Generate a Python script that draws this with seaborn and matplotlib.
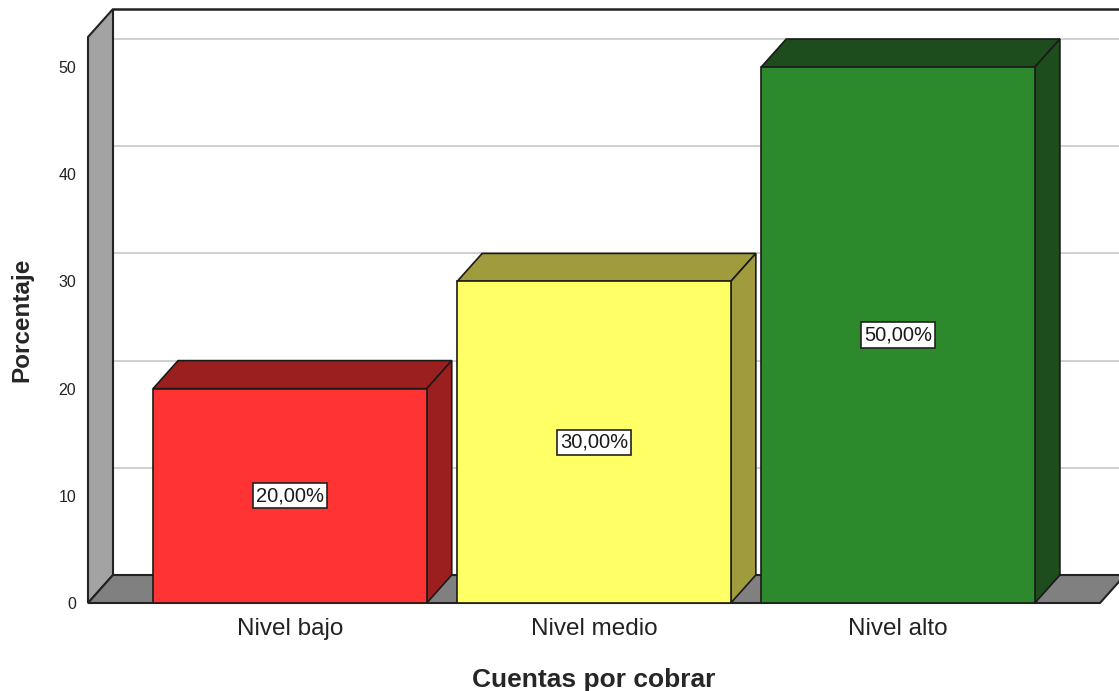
import matplotlib
matplotlib.use("Agg")
import matplotlib.pyplot as plt
import seaborn as sns
import pandas as pd
from matplotlib.patches import Polygon

# --- DATA ---
categorias = ["Nivel bajo", "Nivel medio", "Nivel alto"]
porcentajes = [20.0, 30.0, 50.0]
etiquetas = ["20,00%", "30,00%", "50,00%"]
yticks = [0, 10, 20, 30, 40, 50]

color_frente = ["#ff3333", "#ffff66", "#2c8a2c"]
color_lado = ["#9c1f1f", "#a09b3c", "#1d4d1d"]

df = pd.DataFrame({"categoria": categorias, "porcentaje": porcentajes})

sns.set_style("white")
plt.rcParams["font.family"] = ["Liberation Sans", "DejaVu Sans"]

fig = plt.figure(figsize=(11.19, 6.91), dpi=100)
ax = fig.add_axes([88 / 1119, 88 / 691, (1100 - 88) / 1119, (603 - 37) / 691])

sns.barplot(data=df, x="categoria", y="porcentaje", hue="categoria",
            palette=color_frente, width=0.9, saturation=1, legend=False,
            edgecolor="#1a1a1a", linewidth=1.2, zorder=5, ax=ax)

# barras dibujadas por seaborn
barras = sorted([p for p in ax.patches if p.get_height() > 0], key=lambda p: p.get_x())

xmin, xmax = -0.664, 2.664
ymin, ymax = 0, 52.8
ax.set_xlim(xmin, xmax)
ax.set_ylim(ymin, ymax)
for s in ax.spines.values():
    s.set_visible(False)

# profundidad 3D (en pixeles -> unidades de datos)
p0 = ax.transData.transform((0, 0))
p1 = ax.transData.transform((1, 1))
dx = 25 / (p1[0] - p0[0])
dy = 28 / (p1[1] - p0[1])

# --- PARED DE FONDO ---
for t in yticks[1:]:
    ax.plot([xmin + dx, xmax + dx], [t + dy, t + dy], color="#c8c8c8",
            lw=1.2, clip_on=False, zorder=1)
ax.plot([xmin + dx, xmax + dx + 1], [ymax + dy, ymax + dy], color="#222222",
        lw=1.8, clip_on=False, zorder=2)

# pared lateral
lado = Polygon([(xmin, 0), (xmin, ymax), (xmin + dx, ymax + dy), (xmin + dx, dy)],
               closed=True, facecolor="#a3a3a3", edgecolor="#222222", lw=1.5,
               clip_on=False, zorder=3)
ax.add_patch(lado)

# suelo
suelo = Polygon([(xmin, 0), (xmax, 0), (xmax + dx, dy), (xmin + dx, dy)],
                closed=True, facecolor="#808080", edgecolor="#222222", lw=1.5,
                clip_on=False, zorder=3)
ax.add_patch(suelo)

# --- CARAS SUPERIOR Y LATERAL DE LAS BARRAS ---
for i, b in enumerate(barras):
    x0, w, h = b.get_x(), b.get_width(), b.get_height()
    top = Polygon([(x0, h), (x0 + w, h), (x0 + w + dx, h + dy), (x0 + dx, h + dy)],
                  closed=True, facecolor=color_lado[i], edgecolor="#1a1a1a",
                  lw=1.2, clip_on=False, zorder=4)
    side = Polygon([(x0 + w, 0), (x0 + w, h), (x0 + w + dx, h + dy), (x0 + w + dx, dy)],
                   closed=True, facecolor=color_lado[i], edgecolor="#1a1a1a",
                   lw=1.2, clip_on=False, zorder=4)
    ax.add_patch(top)
    ax.add_patch(side)
    ax.text(x0 + w / 2, h / 2, etiquetas[i], ha="center", va="center",
            fontsize=14.5, color="#1a1a1a", zorder=7,
            bbox=dict(boxstyle="square,pad=0.15", facecolor="white",
                      edgecolor="#222222", lw=1.2))

ax.set_yticks(yticks)
ax.set_yticklabels([str(t) for t in yticks], fontsize=11.5, color="#222222")
ax.tick_params(axis="y", length=0, pad=8.5)
ax.tick_params(axis="x", length=0, pad=11, labelsize=17.5, labelcolor="#222222")

ax.set_xlabel("Cuentas por cobrar", fontsize=19, fontweight="bold", labelpad=20)
ax.set_ylabel("Porcentaje", fontsize=17.5, fontweight="bold")
ax.yaxis.set_label_coords(-0.054, 0.5)

fig.savefig("out.png", dpi=100)
